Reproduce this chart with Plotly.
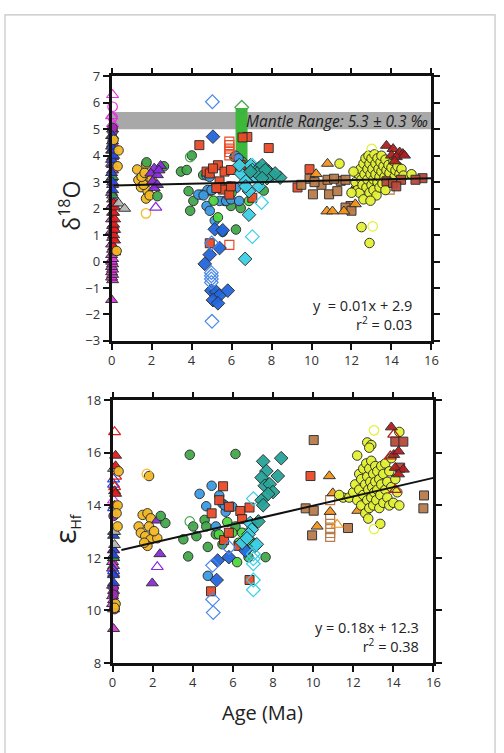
import plotly.graph_objects as go

# ---------------- DATA: delta18O panel (Age Ma, d18O) ----------------
o_mag_tri = [(0,-1.45),(0.05,-0.7),(0,-0.6),(0.05,-0.5),(0,-0.4),(0.05,-0.3),(0,-0.2),(0.05,-0.1),(0,0.0),
             (0.05,0.1),(0,0.25),(0.05,0.45),(0,0.65),(0.05,0.9),(0,1.15),(0.05,1.35),(0,1.6),(0.05,1.85),
             (0,2.1),(0.05,2.35),(0,2.6),(0.05,2.9),(0,3.15),(0.05,3.45),(0,3.7),(0.05,3.95),(0,4.2),
             (0.05,4.45),(0,4.75),(0.05,5.0)]
o_mag_tri_open = [(0.05,6.3),(0.0,5.5),(0.05,5.2)]
o_mag_circ_open = [(0.05,5.85),(0.05,5.45)]
o_purple_circ = [(0.05,4.55),(0.05,4.9),(0.05,5.05)]
o_blue_tri = [(0.05,2.7),(0.05,3.0),(0,3.35),(0.05,3.65),(0,3.85),(0.1,4.0),(0.05,4.2),(0,4.35),(0.05,4.55),(0.05,4.75)]
o_green_tri = [(0.05,2.5),(0.05,3.2)]
o_red_tri = [(0.15,0.35),(0.1,0.55),(0.15,0.8),(0.1,1.0),(0.15,1.2),(0.1,1.4),(0.15,1.6),(0.1,1.85),(0.15,2.05),(0.1,2.2)]
o_gray_tri = [(0.35,2.2),(0.65,2.0)]
o_gold_circ = [(0.25,0.4),(0.3,3.6),(0.35,4.2),(0.1,4.6),
               (1.28,3.48),(1.72,3.68),(1.8,3.05),(1.34,3.08),(1.47,2.81),(1.8,2.66),(1.72,2.38),(1.96,3.27),
               (1.6,2.9),(1.9,2.5),(1.5,3.2),(2.0,3.1),(1.65,3.35)]
o_gold_circ_open = [(1.72,1.82)]
o_purple_tri = [(2.45,3.62),(2.13,3.52),(1.96,3.33),(2.29,3.27),(2.05,3.03),(2.29,2.9),(2.13,2.78),(2.37,3.45)]
o_purple_tri_open = [(2.21,2.04)]
o_green_circ = [(1.75,3.75),(2.62,3.6),(2.29,2.47),(3.47,3.4),(3.76,3.46),(4.01,4.01),(3.85,2.66),(4.09,2.29),
                (3.93,1.92),(4.58,3.27),(4.91,2.66),(5.48,2.78),(6.22,1.21),(6.46,2.02),(7.61,2.68),
                (5.97,2.1),(5.65,2.29),(5.89,2.84),(6.55,3.77),(6.14,3.95)]
o_green_circ_open = [(3.93,3.95)]
o_lime_circ = [(5.32,1.67),(6.87,2.29),(5.1,2.3),(6.0,2.6)]
o_lblue_circ = [(4.5,2.53),(4.34,2.53),(4.75,2.1),(4.91,1.92),(5.07,2.72),(5.16,1.55),(5.56,1.12),(5.4,2.29),
                (5.73,2.29),(5.97,2.35),(6.22,2.78),(6.38,2.29),(6.2,4.0),(6.35,3.9),(4.75,3.25),(4.8,2.7),
                (5.0,2.7),(4.6,2.5),(4.9,3.2)]
o_red_sq = [(4.39,4.4),(4.91,0.69),(5.32,3.64),(4.75,3.4),(4.91,3.33),(5.4,3.03),(5.56,2.72),(5.65,3.4),
            (5.97,3.46),(5.89,2.53),(5.97,2.84),(6.79,4.71),(6.55,4.69),(6.71,3.52),(7.04,2.41),(7.86,4.29),
            (6.46,3.64),(5.24,2.78),(5.07,3.52),(9.3,2.8),(9.9,3.49)]
o_red_sq_open = [(5.89,4.53),(5.89,4.4),(5.89,4.27),(5.89,4.14),(5.89,4.01),(5.89,0.63)]
o_blue_dia = [(5.07,4.72),(5.16,1.22),(5.4,0.51),(4.91,0.26),(4.66,-0.09),(4.99,-1.1),(5.24,-1.15),(5.4,-1.28),
              (5.07,-1.46),(5.32,-1.58),(5.81,-1.1),(5.56,1.18)]
o_blue_dia_open = [(5.04,6.04),(4.99,-0.42),(4.99,-0.54),(4.99,-0.66),(4.99,-0.79),(5.02,-2.26),(5.0,0.7)]
o_cyan_dia = [(6.46,3.33),(6.71,3.03),(6.87,2.66),(6.95,3.64),(6.39,3.64),(7.2,3.21),(6.87,1.77),(6.68,0.1),
              (7.53,3.4),(7.04,3.46),(6.71,2.84),(7.37,2.84)]
o_cyan_dia_open = [(7.04,0.94),(7.5,2.23),(7.04,3.64)]
o_teal_dia = [(7.37,3.52),(7.53,3.64),(7.86,3.4),(8.02,3.27),(8.43,3.17),(7.77,3.15),(8.18,3.33),(7.28,3.33),
              (6.95,3.4),(7.69,3.46),(7.53,3.15)]
o_green_dia_open = [(6.51,5.83)]
o_brown_sq = [(9.9,3.13),(10.07,2.54),(10.5,2.9),(10.8,3.09),(10.88,2.54),(11.29,2.66),(11.46,3.05),(11.7,3.09),
              (11.95,2.1),(11.7,2.04),(12.0,1.92),(9.49,2.9),(10.15,3.0),(11.13,3.13)]
o_brown_sq_open = [(13.91,2.72)]
o_orange_tri = [(10.23,3.31),(10.8,3.7),(10.77,1.9),(11.05,1.9),(11.62,1.9),(12.19,2.17),(12.27,2.9)]
o_yg_circ = [(12.2,3.0),(12.3,2.7),(12.35,3.3),(12.4,2.6),(12.45,3.5),(12.5,3.1),(12.55,2.9),(12.6,3.7),
             (12.6,2.35),(12.65,3.3),(12.7,3.9),(12.75,2.8),(12.8,3.5),(12.8,3.1),(12.85,4.0),(12.9,2.6),
             (12.9,3.7),(12.95,3.3),(13.0,2.9),(13.0,3.9),(13.05,3.5),(13.1,3.1),(13.1,2.7),(13.15,4.05),
             (13.2,3.3),(13.2,3.7),(13.25,2.5),(13.3,3.0),(13.3,3.9),(13.35,3.5),(13.4,2.8),(13.4,3.2),
             (13.45,3.75),(13.5,3.4),(13.5,4.0),(13.55,2.95),(13.6,3.6),(13.65,3.2),(13.7,3.85),(13.7,2.7),
             (13.75,3.45),(13.8,3.1),(13.85,3.65),(13.9,3.35),(14.0,3.0),(14.0,3.55),(14.1,3.8),(14.15,3.2),
             (14.2,3.45),(14.3,3.6),(14.4,3.3),(14.5,3.5),(14.6,3.25),(12.0,2.6),(12.1,3.4),(11.4,3.7),
             (15.0,3.3),(12.5,1.3),(12.9,0.7),(12.95,2.3)]
o_yg_circ_open = [(13.01,4.26),(13.06,1.33)]
o_dred_tri = [(13.75,4.38),(14.08,4.26),(14.41,4.13),(14.57,4.07),(14.0,4.01),(14.24,3.95),(14.16,3.79),(14.65,4.01)]
o_dred_sq = [(13.75,3.03),(14.08,2.97),(14.48,3.09),(15.55,3.15),(14.24,2.84),(15.2,3.09)]

# mantle range band and column of overlapping green points
mantle_band = (5.0, 5.65)
green_column_x = (6.2, 6.8)
green_column_y = (3.55, 5.8)
o_fit_x = [0.1, 16.0]
o_fit_y = [2.87, 3.15]

# ---------------- DATA: epsilon Hf panel (Age Ma, eHf) ----------------
hf_mag_tri = [(0.05,12.0),(0,11.85),(0.05,11.7),(0,11.6),(0.05,11.4),(0,10.95),(0.05,10.75),(0,10.55),
              (0.05,10.4),(0,10.25),(0.05,10.05),(0.05,9.3)]
hf_mag_tri_open = [(0.05,14.2),(0.05,12.3)]
hf_purple_circ = [(0.05,13.6),(0.05,10.85),(0.05,10.6),(0.1,10.05)]
hf_blue_tri = [(0.05,12.85),(0.05,12.3),(0.05,12.1),(0.05,11.35),(0.05,11.05)]
hf_blue_tri_open = [(0.05,15.0),(0.05,14.8),(0.05,13.9),(0.05,11.5)]
hf_green_tri = [(0.05,12.0),(0.05,13.0)]
hf_gray_tri = [(0.05,15.4),(0.1,13.0),(0.1,12.5)]
hf_red_tri = [(0.15,15.9),(0.15,15.5),(0.1,14.55),(0.15,14.45),(0.1,14.0)]
hf_red_tri_open = [(0.1,16.8),(0.15,15.1),(0.1,14.7)]
hf_gold_circ = [(0.3,15.3),(0.25,14.0),(0.2,13.7),(0.25,13.2),(0.15,10.25),(0.1,10.1),
                (1.3,13.2),(1.5,13.64),(1.74,13.7),(1.9,13.51),(1.82,13.2),(1.41,12.96),(1.63,12.83),
                (1.9,12.71),(1.74,12.46),(2.23,12.75),(1.58,12.58),(2.07,13.02),(1.82,15.12)]
hf_gold_circ_open = [(1.71,15.2)]
hf_purple_tri = [(2.23,13.43),(2.36,12.15),(1.98,11.04)]
hf_purple_tri_open = [(2.23,11.66)]
hf_green_circ = [(2.63,13.33),(3.85,15.93),(6.13,15.96),(3.53,12.71),(3.77,12.06),(4.02,13.2),(4.18,12.83),
                 (4.59,13.45),(4.67,13.2),(4.75,12.42),(5.15,12.9),(5.48,12.52),(6.13,13.2),(6.62,12.71),
                 (7.02,12.58),(7.63,12.03),(6.78,12.03),(2.4,13.6)]
hf_green_circ_open = [(3.85,13.39)]
hf_lime_circ = [(5.72,13.37),(5.97,12.96),(6.21,11.84),(6.46,12.96),(6.95,12.52),(6.29,12.58),(5.3,12.9)]
hf_lblue_circ = [(4.34,14.44),(4.94,14.75),(4.67,13.97),(5.32,14.38),(5.48,14.07),(4.75,11.32),(5.64,13.76),
                 (5.97,13.95),(5.15,13.2),(5.6,14.0)]
hf_red_sq = [(5.51,14.73),(4.94,13.7),(5.32,14.2),(5.8,13.95),(6.37,13.79),(6.46,13.48),(6.83,13.92),
             (5.56,12.68),(5.8,12.96),(6.29,12.46),(6.83,11.16),(4.91,10.73),(9.87,15.12)]
hf_blue_dia = [(5.19,11.16),(5.24,11.9),(5.8,12.03),(6.62,12.28)]
hf_blue_dia_open = [(4.99,11.72),(4.99,10.42),(5.02,9.92),(5.8,12.4)]
hf_cyan_dia = [(6.86,13.33),(6.94,13.08),(6.78,12.9),(7.1,12.46),(7.19,12.52),(6.46,12.58),(6.7,12.75)]
hf_cyan_dia_open = [(7.02,14.26),(7.02,12.15),(7.02,11.97),(7.02,11.78),(7.02,10.79),(7.02,11.16)]
hf_teal_dia = [(7.51,15.68),(7.67,15.31),(8.41,15.8),(8.24,15.12),(7.43,15.06),(7.59,14.75),(7.84,14.81),
               (8.0,14.51),(7.43,14.2),(7.51,14.01),(7.27,13.39),(7.76,14.44)]
hf_brown_sq = [(10.03,16.49),(9.63,13.89),(10.03,13.8),(9.95,12.86),(11.74,13.14),(15.53,14.38),(15.5,13.89)]
hf_brown_sq_open = [(10.85,14.2),(10.85,13.5),(10.85,13.3),(10.85,13.1),(10.85,12.95),(10.85,12.8)]
hf_orange_tri = [(10.81,15.12),(10.98,14.47),(10.2,13.2),(10.85,13.76),(12.23,13.8)]
hf_orange_tri_open = [(11.2,13.27)]
hf_yg_circ = [(11.5,14.3),(11.8,14.3),(12.0,14.5),(12.1,14.8),(12.2,14.2),(12.3,15.2),(12.3,14.6),(12.4,14.0),
              (12.4,15.0),(12.5,14.4),(12.5,15.4),(12.6,14.8),(12.6,13.7),(12.65,15.6),(12.7,14.2),(12.7,15.1),
              (12.75,14.6),(12.8,15.4),(12.8,13.9),(12.85,14.9),(12.9,14.3),(12.9,15.7),(12.95,14.7),
              (13.0,15.2),(13.0,14.0),(13.05,14.5),(13.1,15.5),(13.1,14.9),(13.15,14.2),(13.2,15.3),
              (13.2,14.6),(13.3,13.9),(13.3,15.0),(13.35,14.4),(13.4,15.5),(13.4,14.8),(13.5,14.1),
              (13.5,15.2),(13.6,14.6),(13.6,15.6),(13.7,14.3),(13.7,14.9),(13.8,15.3),(13.8,14.0),
              (13.9,14.7),(13.9,15.8),(14.0,14.1),(14.1,15.0),(14.2,14.5),(14.3,14.0),(14.3,16.8),
              (12.2,15.9),(12.7,16.4),(12.9,16.3),(12.8,16.2),(13.35,13.3),(12.75,13.5),(11.3,14.4)]
hf_yg_circ_open = [(13.04,16.86),(13.04,13.1)]
hf_dred_tri = [(13.9,16.98),(14.02,15.93),(14.26,16.06),(14.1,15.44),(14.5,15.37),(14.26,15.19)]
hf_dred_tri_open = [(14.02,16.7),(13.85,15.87),(14.1,14.6)]
hf_dred_sq = [(14.1,16.43),(14.5,16.43),(14.34,15.44)]
hf_fit_x = [0.44, 16.0]
hf_fit_y = [12.3, 15.05]

x_ticks = [0, 2, 4, 6, 8, 10, 12, 14, 16]
o_ticks = [-3, -2, -1, 0, 1, 2, 3, 4, 5, 6, 7]
hf_ticks = [8, 10, 12, 14, 16, 18]

# ---------------- STYLES ----------------
C = dict(mag='#e236e2', purple_c='#a12bb3', blue='#2446e6', green_t='#2f9e4c', red='#e81a1a', gray='#b9b9b9',
         gold='#f3b825', purple='#8b2be0', green='#43a84b', lime='#4fd63d', lblue='#3c9be2', redsq='#eb4a27',
         bdia='#2366dc', cyan='#3ccfe6', teal='#27a398', brown='#b97c4b', orange='#f5941b', yg='#e3f133',
         dred='#b51d1d', dredsq='#b84a3b', odia='#4a88e8')

top_series = [
    (o_mag_tri, 'triangle-up', C['mag'], True), (o_mag_tri_open, 'triangle-up', C['mag'], False),
    (o_mag_circ_open, 'circle', C['mag'], False), (o_purple_circ, 'circle', C['purple_c'], True),
    (o_green_tri, 'triangle-up', C['green_t'], True), (o_blue_tri, 'triangle-up', C['blue'], True),
    (o_red_tri, 'triangle-up', C['red'], True), (o_gray_tri, 'triangle-up', C['gray'], True),
    (o_gold_circ, 'circle', C['gold'], True), (o_gold_circ_open, 'circle', C['gold'], False),
    (o_green_circ, 'circle', C['green'], True), (o_green_circ_open, 'circle', C['green'], False),
    (o_purple_tri, 'triangle-up', C['purple'], True), (o_purple_tri_open, 'triangle-up', C['purple'], False),
    (o_lblue_circ, 'circle', C['lblue'], True), (o_lime_circ, 'circle', C['lime'], True),
    (o_red_sq, 'square', C['redsq'], True), (o_red_sq_open, 'square', C['redsq'], False),
    (o_blue_dia, 'diamond', C['bdia'], True), (o_blue_dia_open, 'diamond', C['odia'], False),
    (o_cyan_dia, 'diamond', C['cyan'], True), (o_cyan_dia_open, 'diamond', C['cyan'], False),
    (o_teal_dia, 'diamond', C['teal'], True), (o_green_dia_open, 'diamond', C['green'], False),
    (o_brown_sq, 'square', C['brown'], True), (o_brown_sq_open, 'square', C['brown'], False),
    (o_orange_tri, 'triangle-up', C['orange'], True),
    (o_yg_circ, 'circle', C['yg'], True), (o_yg_circ_open, 'circle', C['yg'], False),
    (o_dred_sq, 'square', C['dredsq'], True), (o_dred_tri, 'triangle-up', C['dred'], True),
]
bot_series = [
    (hf_mag_tri, 'triangle-up', C['mag'], True), (hf_mag_tri_open, 'triangle-up', C['mag'], False),
    (hf_purple_circ, 'circle', C['purple_c'], True), (hf_blue_tri_open, 'triangle-up', C['blue'], False),
    (hf_green_tri, 'triangle-up', C['green_t'], True), (hf_blue_tri, 'triangle-up', C['blue'], True),
    (hf_gray_tri, 'triangle-up', C['gray'], True), (hf_red_tri_open, 'triangle-up', C['red'], False),
    (hf_red_tri, 'triangle-up', C['red'], True),
    (hf_gold_circ, 'circle', C['gold'], True), (hf_gold_circ_open, 'circle', C['gold'], False),
    (hf_purple_tri, 'triangle-up', C['purple'], True), (hf_purple_tri_open, 'triangle-up', C['purple'], False),
    (hf_green_circ, 'circle', C['green'], True), (hf_green_circ_open, 'circle', C['green'], False),
    (hf_lblue_circ, 'circle', C['lblue'], True), (hf_lime_circ, 'circle', C['lime'], True),
    (hf_red_sq, 'square', C['redsq'], True),
    (hf_blue_dia, 'diamond', C['bdia'], True), (hf_blue_dia_open, 'diamond', C['odia'], False),
    (hf_cyan_dia, 'diamond', C['cyan'], True), (hf_cyan_dia_open, 'diamond', C['cyan'], False),
    (hf_teal_dia, 'diamond', C['teal'], True),
    (hf_brown_sq, 'square', C['brown'], True), (hf_brown_sq_open, 'square', C['brown'], False),
    (hf_orange_tri, 'triangle-up', C['orange'], True), (hf_orange_tri_open, 'triangle-up', C['orange'], False),
    (hf_yg_circ, 'circle', C['yg'], True), (hf_yg_circ_open, 'circle', C['yg'], False),
    (hf_dred_tri_open, 'triangle-up', C['dred'], False), (hf_dred_sq, 'square', C['dredsq'], True),
    (hf_dred_tri, 'triangle-up', C['dred'], True),
]

SIZES = {'circle': 9.5, 'square': 9, 'diamond': 10.5, 'triangle-up': 10.5}

fig = go.Figure()

def add_series(series, xa, ya):
    for pts, sym, col, filled in series:
        xs = [p[0] for p in pts]
        ys = [p[1] for p in pts]
        if filled:
            mk = dict(symbol=sym, size=SIZES[sym], color=col, opacity=0.95,
                      line=dict(color='#2b2b2b', width=1))
        else:
            mk = dict(symbol=sym + '-open', size=SIZES[sym], color=col,
                      line=dict(color=col, width=1.2))
        fig.add_trace(go.Scatter(x=xs, y=ys, mode='markers', marker=mk, xaxis=xa, yaxis=ya,
                                 cliponaxis=False, showlegend=False, hoverinfo='skip'))

add_series(top_series, 'x', 'y')
add_series(bot_series, 'x2', 'y2')

fig.add_trace(go.Scatter(x=o_fit_x, y=o_fit_y, mode='lines', line=dict(color='#111', width=2),
                         xaxis='x', yaxis='y', showlegend=False))
fig.add_trace(go.Scatter(x=hf_fit_x, y=hf_fit_y, mode='lines', line=dict(color='#111', width=2),
                         xaxis='x2', yaxis='y2', showlegend=False))

FONT = 'Open Sans'
tick_font = dict(family=FONT, size=13, color='#333')
axis_common = dict(showline=True, linecolor='#111', linewidth=2.5, mirror='allticks', ticks='outside',
                   ticklen=6, tickwidth=2, tickcolor='#111', showgrid=False, zeroline=False,
                   tickfont=tick_font)

fig.update_layout(
    width=504, height=753, margin=dict(l=0, r=0, t=0, b=0),
    paper_bgcolor='white', plot_bgcolor='white',
    xaxis=dict(domain=[110/504, 437/504], range=[0, 16], tickvals=x_ticks, anchor='y', **axis_common),
    yaxis=dict(domain=[1-340/753, 1-69/753], range=[-3, 7], tickvals=o_ticks, anchor='x', **axis_common),
    xaxis2=dict(domain=[111/504, 439/504], range=[0, 16], tickvals=x_ticks, anchor='y2', **axis_common),
    yaxis2=dict(domain=[1-670/753, 1-401/753], range=[8, 18], tickvals=hf_ticks, anchor='x2', **axis_common),
)

shapes = [
    dict(type='rect', xref='x', yref='y', x0=0, x1=16, y0=mantle_band[0], y1=mantle_band[1],
         fillcolor='#a8a8a8', line=dict(width=0), layer='below'),
    dict(type='rect', xref='x', yref='y', x0=green_column_x[0], x1=green_column_x[1],
         y0=green_column_y[0], y1=green_column_y[1], fillcolor='#3db83a', line=dict(width=0), layer='below'),
    dict(type='rect', xref='paper', yref='paper', x0=1/504, x1=502/504, y0=-0.02, y1=1-6/753,
         line=dict(color='#c4c4c4', width=1.2), fillcolor='rgba(0,0,0,0)', layer='below'),
]
fig.update_layout(shapes=shapes)

ann = [
    dict(xref='x', yref='y', x=16, y=5.32, xanchor='right', yanchor='middle', xshift=-1,
         text='<i>Mantle Range: 5.3 ± 0.3 ‰</i>', font=dict(family=FONT, size=15.5, color='#222'), showarrow=False),
    dict(xref='paper', yref='paper', x=419/504, y=1-314/753, xanchor='right', yanchor='middle', align='right',
         text='y  = 0.01x + 2.9<br>r<sup>2</sup> = 0.03', font=dict(family=FONT, size=14.5, color='#222'),
         showarrow=False),
    dict(xref='paper', yref='paper', x=426/504, y=1-643/753, xanchor='right', yanchor='middle', align='right',
         text='y = 0.18x + 12.3<br>r<sup>2</sup> = 0.38', font=dict(family=FONT, size=14.5, color='#222'),
         showarrow=False),
    dict(xref='paper', yref='paper', x=68/504, y=1-202/753, xanchor='center', yanchor='middle', textangle=-90,
         text='δ<sup>18</sup>O', font=dict(family=FONT, size=23, color='#222'), showarrow=False),
    dict(xref='paper', yref='paper', x=62/504, y=1-532/753, xanchor='center', yanchor='middle', textangle=-90,
         text="<span style='font-size:30px'>ε</span><sub>Hf</sub>", font=dict(family=FONT, size=20, color='#222'),
         showarrow=False),
    dict(xref='paper', yref='paper', x=264/504, y=1-721/753, xanchor='center', yanchor='middle',
         text='Age (Ma)', font=dict(family=FONT, size=20, color='#222'), showarrow=False),
]
fig.update_layout(annotations=ann)

fig.write_html('out.html')
